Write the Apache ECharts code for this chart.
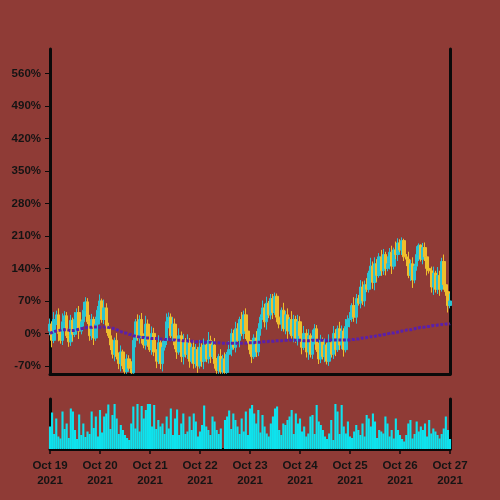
<!DOCTYPE html>
<html>
<head>
<meta charset="utf-8">
<script src="https://cdn.jsdelivr.net/npm/echarts@6/dist/echarts.min.js"></script>
<style>
html,body{margin:0;padding:0;background:#8f3b36;}
#chart{width:500px;height:500px;}
</style>
</head>
<body>
<div id="chart"></div>
<script>
// Day tick labels (one every 24 hourly candles)
const dayLabels = ['Oct 19','Oct 20','Oct 21','Oct 22','Oct 23','Oct 24','Oct 25','Oct 26','Oct 27'];
const yearLabel = '2021';
const yTickValues = [-70,0,70,140,210,280,350,420,490,560];

const openVals = [5,20,-15,30,40,0,-15,25,38,-5,-18,28,-2,30,45,5,25,
50,68,25,-5,30,-10,20,50,70,30,55,15,-5,
-25,-45,-15,-50,-65,-40,-70,-82,-55,-75,-85,
-15,25,-10,30,-5,-25,20,-15,
-35,0,-40,-60,-20,-65,-30,
-15,25,35,-5,20,-25,
-40,-5,-50,-15,-45,
-20,-60,-30,
-65,-35,-70,-30,-60,-25,
-55,-15,-50,-25,-65,
-80,-50,-82,-55,-84,-45,
-35,0,-30,10,-15,
30,0,40,5,-15,
-35,-50,-10,-40,
10,35,55,25,65,40,
75,45,80,35,
20,50,10,40,5,30,
-5,30,-15,25,-5,
-30,0,-40,-5,-45,-10,10,
-35,-55,-15,-50,-25,-60,
-20,-45,0,-35,10,
-25,5,-35,15,30,
32,60,35,75,
65,100,70,105,95,
130,145,110,150,125,
165,135,170,140,150,
175,145,180,170,
195,180,200,165,
160,125,150,115,145,170,
190,160,185,165,140,
135,100,130,95,125,
95,155,105,
90,60];
const closeVals = [20,-15,30,40,0,-15,25,38,-5,-18,28,-2,30,45,5,25,
50,68,25,-5,30,-10,20,50,70,30,55,15,-5,
-25,-45,-15,-50,-65,-40,-70,-82,-55,-75,-85,
-15,25,-10,30,-5,-25,20,-15,
-35,0,-40,-60,-20,-65,-30,
-15,25,35,-5,20,-25,
-40,-5,-50,-15,-45,
-20,-60,-30,
-65,-35,-70,-30,-60,-25,
-55,-15,-50,-25,-65,
-80,-50,-82,-55,-84,-45,
-35,0,-30,10,-15,
30,0,40,5,-15,
-35,-50,-10,-40,
10,35,55,25,65,40,
75,45,80,35,
20,50,10,40,5,30,
-5,30,-15,25,-5,
-30,0,-40,-5,-45,-10,10,
-35,-55,-15,-50,-25,-60,
-20,-45,0,-35,10,
-25,5,-35,15,30,
32,60,35,75,
65,100,70,105,95,
130,145,110,150,125,
165,135,170,140,150,
175,145,180,170,
195,180,200,165,
160,125,150,115,145,170,
190,160,185,165,140,
135,100,130,95,125,
95,155,105,
90,60,70];
const highVals = [32,26,46,49,54,5,43,48,46,10,40,34,46,54,59,30,
68,78,76,40,42,36,36,59,84,75,73,65,23,
10,-13,-9,1,-41,-26,-35,-52,-45,-47,-60,
-3,31,41,39,44,0,38,30,
-7,15,12,-34,-4,-11,-16,
-10,43,45,43,35,32,
-19,11,4,-1,-10,
-2,-10,-22,
-15,-23,-29,-14,-21,-11,
-20,3,-5,-17,-10,
-53,-44,-34,-46,-41,-40,
-17,10,8,25,22,
36,46,49,54,10,
3,-25,-2,5,
22,41,71,64,79,70,
85,85,88,86,
47,56,66,49,54,35,
48,40,38,40,37,
1,16,9,9,0,8,20,
18,-20,-3,-9,-11,-20,
-2,-15,16,9,17,
25,17,11,31,39,
46,65,78,85,
83,115,112,114,119,
135,163,155,164,160,
173,180,182,176,166,
184,189,185,198,
205,203,207,204,
171,176,159,164,150,188,
194,192,195,196,171,
156,144,144,135,143,
135,163,170,
117,96,86];
const lowVals = [-4,-30,-21,18,-17,-22,-25,11,-10,-29,-27,-17,-8,18,-12,-2,
15,36,20,-16,-14,-25,-16,8,33,23,20,1,-10,
-36,-54,-60,-56,-77,-82,-77,-87,-87,-80,-87,
-87,-30,-16,-22,-22,-32,-35,-29,
-40,-46,-49,-75,-66,-77,-82,
-37,-25,11,-10,-16,-34,
-55,-46,-62,-67,-52,
-55,-74,-65,
-76,-74,-85,-76,-72,-77,
-62,-65,-64,-55,-76,
-87,-87,-87,-87,-87,-87,
-55,-49,-35,-41,-24,
-30,-6,-12,-12,-22,
-45,-64,-55,-51,
-49,-5,29,13,8,33,
30,31,40,24,
11,5,4,-2,-12,-2,
-15,-19,-20,-26,-14,
-45,-36,-52,-57,-52,-55,-24,
-40,-66,-64,-56,-62,-67,
-70,-52,-55,-49,-40,
-36,-34,-50,-41,3,
13,25,25,21,
60,54,61,58,89,
88,120,96,93,111,
120,124,126,125,134,
138,128,138,160,
156,175,169,156,
145,119,113,98,108,135,
156,155,149,156,125,
129,88,83,88,85,
81,90,94,
81,45,54];
const volumeVals = [45,73,30,61,25,21,75,40,51,22,81,75,38,20,69,28,51,24,35,30,75,42,65,25,78,33,65,71,89,40,68,90,61,30,48,38,28,22,18,51,85,41,90,35,86,61,78,90,90,45,88,40,58,45,51,30,65,41,81,28,61,79,28,51,71,30,35,65,38,71,55,25,35,48,87,45,38,28,65,55,38,30,41,0,58,65,77,40,71,58,45,30,61,35,75,28,81,88,71,51,78,33,68,45,31,25,51,65,81,85,38,28,51,48,58,65,78,30,71,51,61,35,45,25,31,65,68,30,88,55,48,38,25,20,31,58,18,90,75,30,88,45,31,55,25,22,35,48,38,28,51,25,68,61,45,71,55,22,38,35,31,65,51,25,38,21,61,38,28,20,15,28,51,58,21,30,55,35,45,38,51,25,58,31,41,35,28,21,30,41,65,38,20];
const maVals = [0,2,4,5,6,7,8,8,8,7,6,6,7,8,9,10,11,12,13,13,13,14,14,14,13,13,14,14,13,12,11,10,8,6,4,2,1,0,-2,-3,-5,-6,-7,-8,-9,-9,-10,-10,-10,-11,-11,-11,-12,-12,-12,-13,-13,-13,-14,-14,-14,-15,-15,-15,-16,-16,-16,-17,-17,-17,-18,-18,-18,-18,-19,-19,-19,-19,-20,-20,-20,-20,-21,-21,-21,-21,-21,-21,-21,-21,-21,-21,-21,-21,-21,-20,-20,-20,-20,-19,-19,-19,-18,-18,-18,-17,-17,-17,-16,-16,-16,-16,-15,-15,-15,-14,-14,-14,-15,-15,-15,-15,-16,-16,-16,-16,-15,-15,-15,-15,-15,-15,-15,-15,-14,-14,-14,-14,-14,-14,-14,-14,-14,-14,-14,-13,-13,-12,-12,-11,-10,-10,-9,-8,-7,-7,-6,-5,-4,-4,-3,-2,-1,0,1,1,2,3,4,5,6,7,8,8,9,10,11,12,13,13,14,15,15,16,17,17,18,18,19,19,20,20,21];

const categories = closeVals.map((_, i) => String(i));
const candleData = closeVals.map((c, i) => [openVals[i], c, lowVals[i], highVals[i]]);

const UP = '#2ac3d3';
const DOWN = '#efbe2c';
const AXIS = '#0a0a0a';
const TEXT = '#141414';
const FONT = '"Liberation Sans", Arial, sans-serif';

const chart = echarts.init(document.getElementById('chart'));
chart.setOption({
  backgroundColor: '#8f3b36',
  animation: false,
  grid: [
    {left: 50, right: 50, top: 49, height: 325},
    {left: 50, right: 50, top: 399, height: 50}
  ],
  xAxis: [
    {type: 'category', gridIndex: 0, data: categories, boundaryGap: false,
     axisLine: {onZero: false, lineStyle: {color: AXIS, width: 3}}, axisTick: {show: false},
     axisLabel: {show: false}, splitLine: {show: false}},
    {type: 'category', gridIndex: 1, data: categories, boundaryGap: false,
     axisLine: {onZero: false, lineStyle: {color: AXIS, width: 3}},
     axisTick: {show: true, interval: 23, length: 5, lineStyle: {color: AXIS, width: 1.5}},
     axisLabel: {show: true, interval: 23, margin: 9, color: TEXT, fontFamily: FONT,
       fontWeight: 'bold', fontSize: 11.5, lineHeight: 15,
       formatter: function (v, idx) { return dayLabels[Math.round(idx / 24)] + '\n' + yearLabel; }},
     splitLine: {show: false}}
  ],
  yAxis: [
    {type: 'value', gridIndex: 0, min: -87.5, max: 613, position: 'left',
     axisLine: {show: true, onZero: false, lineStyle: {color: AXIS, width: 3}},
     axisTick: {show: true, length: 5, customValues: yTickValues, lineStyle: {color: AXIS, width: 1}},
     axisLabel: {show: true, margin: 9, customValues: yTickValues, color: TEXT, fontFamily: FONT,
       fontWeight: 'bold', fontSize: 11.5, formatter: '{value}%'},
     splitLine: {show: false}},
    {type: 'value', gridIndex: 0, min: -87.5, max: 613, position: 'right',
     axisLine: {show: true, onZero: false, lineStyle: {color: AXIS, width: 3}},
     axisTick: {show: false}, axisLabel: {show: false}, splitLine: {show: false}},
    {type: 'value', gridIndex: 1, min: 0, max: 100, position: 'left',
     axisLine: {show: true, onZero: false, lineStyle: {color: AXIS, width: 3}},
     axisTick: {show: false}, axisLabel: {show: false}, splitLine: {show: false}},
    {type: 'value', gridIndex: 1, min: 0, max: 100, position: 'right',
     axisLine: {show: true, onZero: false, lineStyle: {color: AXIS, width: 3}},
     axisTick: {show: false}, axisLabel: {show: false}, splitLine: {show: false}}
  ],
  series: [
    {type: 'candlestick', xAxisIndex: 0, yAxisIndex: 0, data: candleData, barWidth: 3,
     itemStyle: {color: UP, color0: DOWN, borderColor: UP, borderColor0: DOWN, borderWidth: 1}},
    {type: 'line', xAxisIndex: 0, yAxisIndex: 0, data: maVals, showSymbol: false, smooth: true,
     lineStyle: {color: '#5a20aa', width: 3, type: [3, 1.5]}, z: 5},
    {type: 'bar', xAxisIndex: 1, yAxisIndex: 2, data: volumeVals, barWidth: 2.1,
     itemStyle: {color: '#0de3ee'}}
  ]
});
</script>
</body>
</html>
